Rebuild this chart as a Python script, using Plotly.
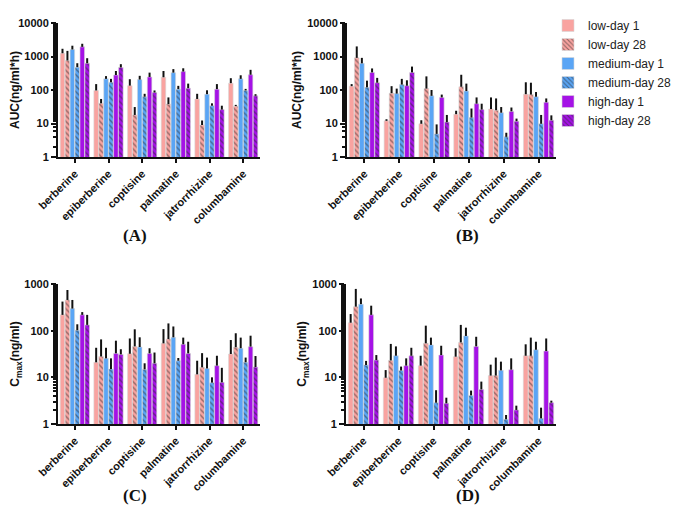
import plotly.graph_objects as go
from plotly.subplots import make_subplots

categories = ["berberine", "epiberberine", "coptisine", "palmatine", "jatrorrhizine", "columbamine"]
series_names = ["low-day 1", "low-day 28", "medium-day 1", "medium-day 28", "high-day 1", "high-day 28"]

# Panel A: AUC (ng/ml*h), mean and SD per series (rows follow series_names)
auc_a_mean = [
    [1250, 97, 135, 240, 54, 160],
    [760, 40, 18, 38, 9, 33],
    [1620, 215, 205, 330, 75, 215],
    [480, 170, 63, 106, 34, 97],
    [1940, 280, 245, 355, 106, 285],
    [630, 470, 84, 113, 26, 67],
]
auc_a_sd = [
    [450, 53, 75, 130, 23, 65],
    [710, 14, 13, 22, 3.3, 3],
    [480, 45, 60, 90, 23, 60],
    [150, 45, 14, 27, 6, 11],
    [460, 90, 85, 90, 44, 115],
    [260, 120, 13, 42, 8, 8],
]
# Panel B: AUC
auc_b_mean = [
    [130, 12, 9.8, 19, 27, 75],
    [910, 80, 110, 125, 25, 73],
    [625, 78, 67, 93, 21, 63],
    [120, 145, 4.9, 15, 4.0, 9.8],
    [335, 134, 60, 39, 23, 43],
    [165, 335, 11, 26, 11.7, 12.5],
]
auc_b_sd = [
    [20, 1.4, 2.7, 5, 33, 95],
    [1090, 50, 145, 160, 31, 92],
    [285, 32, 33, 62, 10, 24],
    [70, 70, 4.5, 13, 1.3, 8.2],
    [105, 61, 13, 21, 7, 13],
    [65, 165, 7, 13, 2.3, 5],
]
# Panel C: Cmax (ng/ml)
cmax_c_mean = [
    [218, 21, 32, 53.5, 11.6, 31.6],
    [455, 28, 46, 66, 16.4, 44],
    [297, 25.5, 44.6, 72, 15.5, 42],
    [102, 15, 14.8, 22.7, 7.7, 21],
    [218, 32.6, 32.6, 51, 17.8, 45.5],
    [133, 31, 20, 32.6, 7.8, 16.6],
]
cmax_c_sd = [
    [202, 22, 36, 54.5, 11.1, 31.4],
    [290, 37, 61, 77, 16.6, 44],
    [158, 17.5, 27.4, 51, 11, 29],
    [35, 10.5, 5.2, 3.3, 2.3, 5.5],
    [32, 28.4, 9.4, 20, 11.2, 32.5],
    [85, 9, 14, 25.4, 8.2, 12],
]
# Panel D: Cmax
cmax_d_mean = [
    [148, 9.8, 17.8, 27.7, 10.9, 29],
    [327, 23, 53.5, 56, 10.9, 29],
    [370, 29, 49.5, 77, 14.1, 39],
    [18.4, 14, 2.86, 4.1, 1.26, 1.32],
    [218, 17.8, 30, 46, 14.6, 36.6],
    [23.5, 29, 2.77, 5.5, 2.0, 2.86],
]
cmax_d_sd = [
    [79, 4.5, 11.2, 14.3, 7.8, 22],
    [458, 29, 74.5, 77, 15.6, 42],
    [120, 17, 21.5, 39, 7.6, 19],
    [4.1, 3, 2.44, 1.1, 0.3, 0.92],
    [125, 7.7, 17.5, 28, 10.9, 31.4],
    [6.5, 14, 0.89, 2.6, 0.47, 0.3],
]

colors = ["#F9A3A0", "#F9A3A0", "#5AA5F5", "#5AA5F5", "#A512E6", "#A512E6"]
hatched = [False, True, False, True, False, True]

FONT = "Liberation Sans, Arial, sans-serif"
PAD = "\u00a0" * 5  # room so the legend box is wide enough for its text

fig = make_subplots(rows=2, cols=2)

panels = [
    (1, 1, auc_a_mean, auc_a_sd),
    (1, 2, auc_b_mean, auc_b_sd),
    (2, 1, cmax_c_mean, cmax_c_sd),
    (2, 2, cmax_d_mean, cmax_d_sd),
]

for pi, (r, c, means, sds) in enumerate(panels):
    for si in range(6):
        marker = dict(color=colors[si], line=dict(color="rgba(215,215,215,1)", width=0.6))
        if hatched[si]:
            marker["pattern"] = dict(shape="\\", fgcolor="#2a2a2a", size=4, solidity=0.35)
        fig.add_trace(
            go.Bar(
                x=categories,
                y=means[si],
                name=series_names[si] + PAD,
                marker=marker,
                error_y=dict(type="data", array=sds[si], arrayminus=[0] * 6, symmetric=False,
                             color="#111111", thickness=2, width=0),
                showlegend=(pi == 0),
                offsetgroup=str(si),
            ),
            row=r, col=c,
        )

domains = {
    1: ([50 / 685, 252 / 685], [1 - 149 / 510, 1 - 15 / 510]),
    2: ([339 / 685, 548 / 685], [1 - 149 / 510, 1 - 15 / 510]),
    3: ([50 / 685, 252 / 685], [1 - 416 / 510, 1 - 276 / 510]),
    4: ([338 / 685, 548 / 685], [1 - 416 / 510, 1 - 276 / 510]),
}
ytitles = {1: "AUC(ng/ml*h)", 2: "AUC(ng/ml*h)", 3: "C<sub>max</sub>(ng/ml)", 4: "C<sub>max</sub>(ng/ml)"}
for i in range(1, 5):
    xd, yd = domains[i]
    xa = "xaxis" if i == 1 else f"xaxis{i}"
    ya = "yaxis" if i == 1 else f"yaxis{i}"
    top = 4 if i <= 2 else 3
    tv = [10 ** k for k in range(top + 1)]
    fig.layout[xa].update(
        domain=xd, automargin=False, showline=True, linecolor="#111", linewidth=2, ticks="outside",
        ticklen=4, tickwidth=1.5, tickcolor="#111", tickangle=-45,
        tickfont=dict(family=FONT, size=11, color="#111", weight="bold"),
        showgrid=False, zeroline=False,
    )
    fig.layout[ya].update(
        domain=yd, automargin=False, type="log", range=[0, top], showline=True, linecolor="#111", linewidth=2,
        ticks="outside", ticklen=5, tickwidth=1.5, tickcolor="#111",
        tickvals=tv, ticktext=[str(v) for v in tv],
        tickfont=dict(family=FONT, size=11, color="#111", weight="bold"),
        minor=dict(ticks="outside", ticklen=3, tickcolor="#111", showgrid=False),
        showgrid=False, zeroline=False,
        title=dict(text=ytitles[i], font=dict(family=FONT, size=12, color="#111", weight="bold"), standoff=3),
    )

labels = [("(A)", 127, 227), ("(B)", 460, 227), ("(C)", 127, 487), ("(D)", 460, 487)]
for txt, px, py in labels:
    fig.add_annotation(x=px / 685, y=1 - py / 510, xref="paper", yref="paper", text=txt,
                       xanchor="center", yanchor="middle",
                       showarrow=False, font=dict(family="Liberation Serif, Times New Roman, serif",
                                                  size=17, color="#111", weight="bold"))

fig.update_layout(
    width=685, height=510, margin=dict(l=0, r=0, t=0, b=0),
    paper_bgcolor="white", plot_bgcolor="white",
    barmode="group", bargap=0.12, bargroupgap=0.08,
    legend=dict(x=1, y=1 - 3 / 510, xanchor="right", yanchor="top",
                font=dict(family=FONT, size=12, color="#222"), bgcolor="rgba(0,0,0,0)",
                itemwidth=30, tracegroupgap=0),
)

fig.write_html("out.html")
